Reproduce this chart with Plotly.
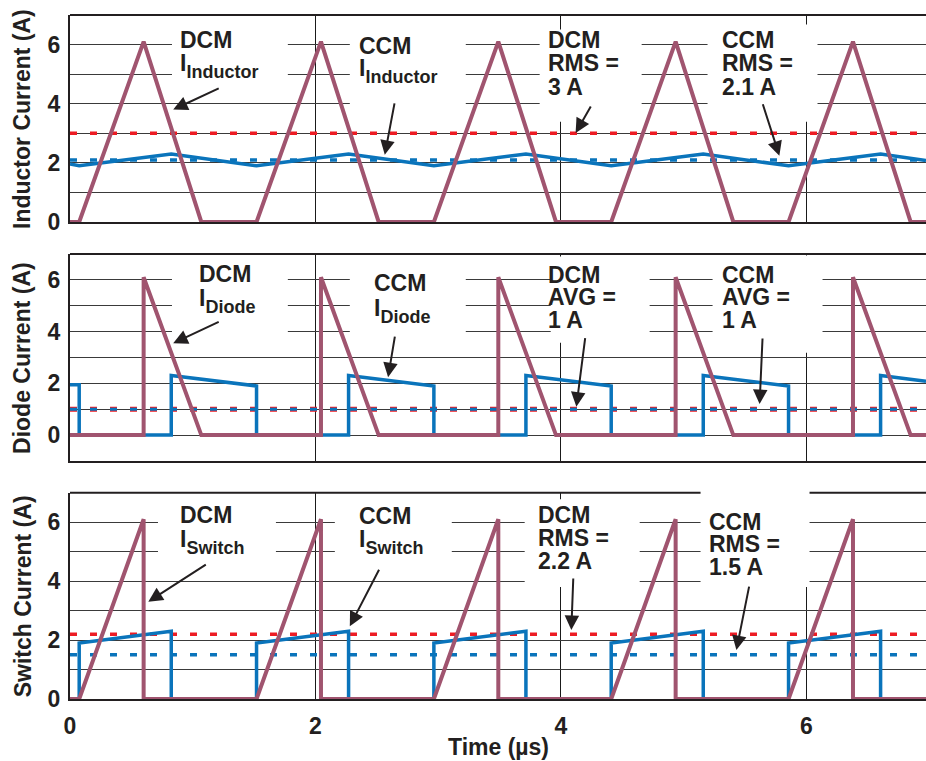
import plotly.graph_objects as go

# ---------------- data (time in µs, current in A) ----------------
time_tick_vals = [0, 2, 4, 6]
time_tick_text = ["0", "2", "4", "6"]
current_tick_vals = [-1, 0, 1, 2, 3, 4, 5, 6]
current_tick_text = ["", "0", "", "2", "", "4", "", "6"]

# Inductor current
dcm_ind_t = [0, 0.075, 0.60, 1.07, 1.52, 2.045, 2.515, 2.965, 3.49, 3.96, 4.41, 4.935, 5.405, 5.855, 6.38, 6.85, 6.975]
dcm_ind_i = [0, 0, 6.1, 0, 0, 6.1, 0, 0, 6.1, 0, 0, 6.1, 0, 0, 6.1, 0, 0]
ccm_ind_t = [0, 0.075, 0.825, 1.52, 2.27, 2.965, 3.715, 4.41, 5.16, 5.855, 6.605, 6.975]
ccm_ind_i = [1.96, 1.9, 2.3, 1.9, 2.3, 1.9, 2.3, 1.9, 2.3, 1.9, 2.3, 2.08]

# Diode current
dcm_dio_t = [0, 0.60, 0.60, 1.07, 2.045, 2.045, 2.515, 3.49, 3.49, 3.96, 4.935, 4.935, 5.405, 6.38, 6.38, 6.85, 6.975]
dcm_dio_i = [0, 0, 6.1, 0, 0, 6.1, 0, 0, 6.1, 0, 0, 6.1, 0, 0, 6.1, 0, 0]
ccm_dio_t = [0, 0.075, 0.075, 0.825, 0.825, 1.52, 1.52, 2.27, 2.27, 2.965, 2.965, 3.715, 3.715,
             4.41, 4.41, 5.16, 5.16, 5.855, 5.855, 6.605, 6.605, 6.975]
ccm_dio_i = [1.95, 1.95, 0, 0, 2.3, 1.9, 0, 0, 2.3, 1.9, 0, 0, 2.3, 1.9, 0, 0, 2.3, 1.9, 0, 0, 2.3, 2.08]

# Switch current
dcm_sw_t = [0, 0.075, 0.60, 0.60, 1.52, 2.045, 2.045, 2.965, 3.49, 3.49, 4.41, 4.935, 4.935, 5.855, 6.38, 6.38, 6.975]
dcm_sw_i = [0, 0, 6.1, 0, 0, 6.1, 0, 0, 6.1, 0, 0, 6.1, 0, 0, 6.1, 0, 0]
ccm_sw_t = [0, 0.075, 0.075, 0.825, 0.825, 1.52, 1.52, 2.27, 2.27, 2.965, 2.965, 3.715, 3.715,
            4.41, 4.41, 5.16, 5.16, 5.855, 5.855, 6.605, 6.605, 6.975]
ccm_sw_i = [0, 0, 1.9, 2.3, 0, 0, 1.9, 2.3, 0, 0, 1.9, 2.3, 0, 0, 1.9, 2.3, 0, 0, 1.9, 2.3, 0, 0]

# RMS / average levels
inductor_rms_dcm = 3.0
inductor_rms_ccm = 2.1
diode_avg_dcm = 1.0
diode_avg_ccm = 1.0
switch_rms_dcm = 2.2
switch_rms_ccm = 1.5

# ---------------- styling ----------------
INK = "#231f20"
MAROON = "#a0546f"
BLUE = "#0a74bb"
RED = "#ed1c24"
GRID_H = "#3a3a3a"
GRID_V = "#1a1a1a"
FONT = "Liberation Sans, Arial, Helvetica, sans-serif"
T_END = 6.975
FS = 23
FS_SUB = 18
SUB_SHIFT = 7  # px the subscript baseline sits below the "I"


def fmt(v):
    return f"{v:g} A"


fig = go.Figure()

panels = [
    dict(xa="x", ya="y", dcm=(dcm_ind_t, dcm_ind_i), ccm=(ccm_ind_t, ccm_ind_i),
         lv_dcm=inductor_rms_dcm, lv_ccm=inductor_rms_ccm, red_w=3.5, blue_w=3.5),
    dict(xa="x2", ya="y2", dcm=(dcm_dio_t, dcm_dio_i), ccm=(ccm_dio_t, ccm_dio_i),
         lv_dcm=diode_avg_dcm, lv_ccm=diode_avg_ccm, red_w=5, blue_w=3),
    dict(xa="x3", ya="y3", dcm=(dcm_sw_t, dcm_sw_i), ccm=(ccm_sw_t, ccm_sw_i),
         lv_dcm=switch_rms_dcm, lv_ccm=switch_rms_ccm, red_w=3.5, blue_w=3.5),
]

for p in panels:
    fig.add_trace(go.Scatter(x=[0, T_END], y=[p["lv_dcm"], p["lv_dcm"]], mode="lines",
                             line=dict(color=RED, width=p["red_w"], dash="7px,13px"),
                             xaxis=p["xa"], yaxis=p["ya"], hoverinfo="skip", showlegend=False))
    fig.add_trace(go.Scatter(x=[0, T_END], y=[p["lv_ccm"], p["lv_ccm"]], mode="lines",
                             line=dict(color=BLUE, width=p["blue_w"], dash="7px,13px"),
                             xaxis=p["xa"], yaxis=p["ya"], hoverinfo="skip", showlegend=False))
    fig.add_trace(go.Scatter(x=p["ccm"][0], y=p["ccm"][1], mode="lines",
                             line=dict(color=BLUE, width=3.5),
                             xaxis=p["xa"], yaxis=p["ya"], showlegend=False))
    fig.add_trace(go.Scatter(x=p["dcm"][0], y=p["dcm"][1], mode="lines",
                             line=dict(color=MAROON, width=4),
                             xaxis=p["xa"], yaxis=p["ya"], showlegend=False))

# ---------------- axes ----------------
xcommon = dict(range=[0, T_END], tickvals=time_tick_vals, ticktext=time_tick_text,
               showgrid=True, gridcolor=GRID_V, gridwidth=1, zeroline=False,
               showline=True, linecolor=INK, linewidth=2, ticks="", fixedrange=True,
               domain=[0, 1])
ycommon = dict(tickvals=current_tick_vals, ticktext=current_tick_text,
               showgrid=True, gridcolor=GRID_H, gridwidth=1.3, zeroline=False,
               showline=True, linecolor=INK, linewidth=2, ticks="", fixedrange=True,
               tickfont=dict(family=FONT, size=FS, color=INK, weight="bold"),
               ticklabelstandoff=3)

dom1 = [0.6974, 1.0]
dom2 = [0.3480, 0.6506]
dom3 = [0.0, 0.3016]

fig.update_layout(
    width=926, height=761,
    margin=dict(l=70, r=0, t=15, b=62),
    paper_bgcolor="white", plot_bgcolor="white",
    xaxis=dict(xcommon, anchor="y", showticklabels=False),
    xaxis2=dict(xcommon, anchor="y2", matches="x", showticklabels=False),
    xaxis3=dict(xcommon, anchor="y3", matches="x", showticklabels=True,
                tickfont=dict(family=FONT, size=FS, color=INK, weight="bold"),
                ticklabelstandoff=5),
    yaxis=dict(ycommon, domain=dom1, range=[0, 7], anchor="x"),
    yaxis2=dict(ycommon, domain=dom2, range=[-1, 7], anchor="x2"),
    yaxis3=dict(ycommon, domain=dom3, range=[0, 7], anchor="x3"),
    showlegend=False,
)

# ---------------- frame top edges ----------------
shapes = []
for dom, segs in ((dom1, [(0, 1)]), (dom2, [(0, 1)]),
                  (dom3, [(0, 5.138 / T_END), (6.026 / T_END, 1)])):
    for a, b in segs:
        shapes.append(dict(type="line", xref="paper", yref="paper", x0=a, x1=b,
                           y0=dom[1], y1=dom[1], line=dict(color=INK, width=2), layer="above"))

# white label backgrounds that mask the grid (t0, t1, i0, i1)
label_boxes = {
    ("x", "y"): [(0.831, 1.775, 4.47, 6.58), (2.280, 3.225, 3.73, 6.58),
                 (3.827, 4.658, 3.39, 6.51), (5.195, 6.091, 3.39, 6.68)],
    ("x2", "y2"): [(0.831, 1.775, 3.68, 6.78), (2.280, 3.225, 3.68, 6.78),
                   (3.917, 4.723, 3.57, 6.90), (5.236, 6.132, 3.18, 6.94)],
    ("x3", "y3"): [(0.717, 1.678, 4.54, 6.75), (2.158, 3.111, 4.54, 6.75),
                   (3.705, 4.642, 3.80, 6.78), (5.138, 6.026, 3.80, 7.5)],
}
for (xr, yr), boxes in label_boxes.items():
    for t0, t1, i0, i1 in boxes:
        shapes.append(dict(type="rect", xref=xr, yref=yr, x0=t0, x1=t1, y0=i0, y1=i1,
                           fillcolor="white", line=dict(width=0), layer="between"))
fig.update_layout(shapes=shapes)

# ---------------- labels ----------------
ann = []
PX_PER_A = {"y": 29.5, "y2": 25.8, "y3": 29.5}


def text(xr, yr, t, i, s, height=20):
    ann.append(dict(xref=xr, yref=yr, x=t, y=i, text=s, showarrow=False,
                    xanchor="left", yanchor="middle", borderpad=0, height=height,
                    font=dict(family=FONT, size=FS, color=INK, weight="bold")))


def current_label(xr, yr, t, y_mode, y_i, mode, sub):
    text(xr, yr, t, y_mode, mode)
    # "I" with its subscript on one line; the box is centred a little below the "I"
    s = f"I<span style='font-size:{FS_SUB}px;baseline-shift:-{SUB_SHIFT}px'>{sub}</span>"
    ann.append(dict(xref=xr, yref=yr, x=t, y=y_i - 3.2 / PX_PER_A[yr], text=s, showarrow=False,
                    xanchor="left", yanchor="middle", borderpad=0,
                    font=dict(family=FONT, size=FS, color=INK, weight="bold")))


def block(xr, yr, t, ys, lines):
    for y, s in zip(ys, lines):
        text(xr, yr, t, y, s)


def arrow(xr, yr, t, i, ax, ay):
    ann.append(dict(xref=xr, yref=yr, x=t, y=i, text="", showarrow=True,
                    ax=ax, ay=ay, arrowhead=2, arrowsize=1.45, arrowwidth=2,
                    arrowcolor=INK, standoff=0))


# Inductor panel
current_label("x", "y", 0.89, 6.14, 5.39, "DCM", "Inductor")
current_label("x", "y", 2.35, 5.94, 5.20, "CCM", "Inductor")
block("x", "y", 3.889, [6.14, 5.36, 4.56], ["DCM", "RMS =", fmt(inductor_rms_dcm)])
block("x", "y", 5.306, [6.14, 5.36, 4.56], ["CCM", "RMS =", fmt(inductor_rms_ccm)])
arrow("x", "y", 0.841, 3.80, 47, -22)
arrow("x", "y", 2.565, 2.27, 10, -53)
arrow("x", "y", 4.12, 3.01, 16, -28)
arrow("x", "y", 5.78, 2.24, -17, -53)

# Diode panel
current_label("x2", "y2", 1.039, 6.21, 5.31, "DCM", "Diode")
current_label("x2", "y2", 2.472, 5.89, 4.92, "CCM", "Diode")
block("x2", "y2", 3.889, [6.20, 5.33, 4.44], ["DCM", "AVG =", fmt(diode_avg_dcm)])
block("x2", "y2", 5.306, [6.20, 5.33, 4.44], ["CCM", "AVG =", fmt(diode_avg_ccm)])
arrow("x2", "y2", 0.841, 3.55, 47, -22)
arrow("x2", "y2", 2.592, 2.24, 7, -42)
arrow("x2", "y2", 4.126, 1.10, 9, -70)
arrow("x2", "y2", 5.619, 1.20, 3, -67)

# Switch panel
current_label("x3", "y3", 0.892, 6.24, 5.44, "DCM", "Switch")
current_label("x3", "y3", 2.35, 6.20, 5.44, "CCM", "Switch")
block("x3", "y3", 3.803, [6.24, 5.47, 4.69], ["DCM", "RMS =", fmt(switch_rms_dcm)])
block("x3", "y3", 5.200, [6.00, 5.25, 4.47], ["CCM", "RMS =", fmt(switch_rms_ccm)])
arrow("x3", "y3", 0.638, 3.30, 59, -38)
arrow("x3", "y3", 2.28, 2.47, 30, -58)
arrow("x3", "y3", 4.085, 2.34, 2, -53)
arrow("x3", "y3", 5.43, 1.66, 13, -65)

# axis titles
for label, dom in (("Inductor Current (A)", dom1), ("Diode Current (A)", dom2), ("Switch Current (A)", dom3)):
    ann.append(dict(xref="paper", yref="paper", x=-0.0555, y=(dom[0] + dom[1]) / 2,
                    text=label, textangle=-90, showarrow=False, xanchor="center", yanchor="middle",
                    font=dict(family=FONT, size=FS, color=INK, weight="bold")))
ann.append(dict(xref="paper", yref="paper", x=0.5, y=-0.0702, text="Time (µs)",
                showarrow=False, xanchor="center", yanchor="middle",
                font=dict(family=FONT, size=FS, color=INK, weight="bold")))

fig.update_layout(annotations=ann)

fig.write_html("out.html")
